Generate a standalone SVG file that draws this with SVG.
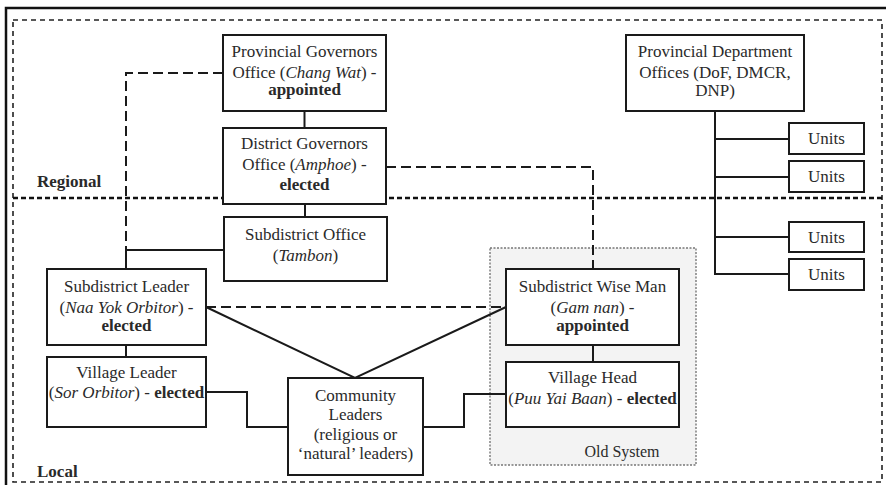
<svg xmlns="http://www.w3.org/2000/svg" width="886" height="485" viewBox="0 0 886 485">
  <style>
    text { font-family: "Liberation Serif", "DejaVu Serif", serif; font-size: 17px; fill: #2a2a2a; text-anchor: middle; }
    .b { font-weight: bold; }
    .i { font-style: italic; }
    .box { fill: #ffffff; stroke: #1a1a1a; stroke-width: 2; }
    .ln { fill: none; stroke: #1a1a1a; stroke-width: 2; }
    .dl { fill: none; stroke: #1a1a1a; stroke-width: 2; stroke-dasharray: 10 5; }
    .zone { font-weight: bold; text-anchor: start; }
  </style>

  <rect width="886" height="485" fill="#ffffff"/>

  <!-- outer frame and zone boundaries -->
  <g id="frame">
    <rect x="6" y="8" width="900" height="500" fill="none" stroke="#111" stroke-width="2.5"/>
    <rect x="13" y="20" width="869" height="462" fill="none" stroke="#222" stroke-width="1.6" stroke-dasharray="5 4"/>
    <line x1="13" y1="198" x2="882" y2="198" stroke="#111" stroke-width="2.6" stroke-dasharray="5 3"/>
    <text class="zone" x="37" y="187">Regional</text>
    <text class="zone" x="37" y="477">Local</text>
  </g>

  <!-- old system grouping -->
  <g id="old-system">
    <rect x="490" y="248" width="206" height="217" fill="#f3f3f3" stroke="#777" stroke-width="1.4" stroke-dasharray="2 1.5"/>
    <text x="622" y="457" style="font-size:16px">Old  System</text>
  </g>

  <!-- connectors -->
  <g id="connectors">
    <line class="ln" x1="304.5" y1="111" x2="304.5" y2="128"/>
    <line class="ln" x1="305" y1="204" x2="305" y2="217"/>
    <polyline class="dl" points="223,73 126,73 126,250"/>
    <polyline class="ln" points="224,250 126,250 126,269"/>
    <polyline class="dl" points="386,167 593,167 593,269"/>
    <line class="ln" x1="126" y1="345" x2="126" y2="357"/>
    <line class="dl" x1="206" y1="307" x2="506" y2="307"/>
    <polyline class="ln" points="206,307 355,378 506,307"/>
    <polyline class="ln" points="206,392 247,392 247,427 288,427"/>
    <polyline class="ln" points="423,427 464,427 464,394 506,394"/>
    <line class="ln" x1="593" y1="345" x2="593" y2="362"/>
    <line class="ln" x1="715" y1="111" x2="715" y2="275"/>
    <line class="ln" x1="715" y1="139" x2="789" y2="139"/>
    <line class="ln" x1="715" y1="177" x2="789" y2="177"/>
    <line class="ln" x1="715" y1="237" x2="789" y2="237"/>
    <line class="ln" x1="715" y1="274" x2="789" y2="274"/>
  </g>

  <g id="provincial-governors">
    <rect class="box" x="223" y="35" width="163" height="76"/>
    <text x="304.5" y="57">Provincial Governors</text>
    <text x="304.5" y="78">Office (<tspan class="i">Chang Wat</tspan>) -</text>
    <text x="304.5" y="95" class="b">appointed</text>
  </g>

  <g id="district-governors">
    <rect class="box" x="223" y="128" width="163" height="76"/>
    <text x="304.5" y="149">District Governors</text>
    <text x="304.5" y="170">Office (<tspan class="i">Amphoe</tspan>) -</text>
    <text x="304.5" y="190" class="b">elected</text>
  </g>

  <g id="subdistrict-office">
    <rect class="box" x="224" y="217" width="163" height="64"/>
    <text x="305.5" y="240">Subdistrict Office</text>
    <text x="305.5" y="261">(<tspan class="i">Tambon</tspan>)</text>
  </g>

  <g id="subdistrict-leader">
    <rect class="box" x="47" y="269" width="159" height="76"/>
    <text x="126.5" y="292">Subdistrict Leader</text>
    <text x="126.5" y="313">(<tspan class="i">Naa Yok Orbitor</tspan>) -</text>
    <text x="126.5" y="331" class="b">elected</text>
  </g>

  <g id="village-leader">
    <rect class="box" x="47" y="357" width="159" height="70"/>
    <text x="126.5" y="378">Village Leader</text>
    <text x="126.5" y="398">(<tspan class="i">Sor Orbitor</tspan>) - <tspan class="b">elected</tspan></text>
  </g>

  <g id="community-leaders">
    <rect class="box" x="288" y="378" width="135" height="97"/>
    <text x="355.5" y="401">Community</text>
    <text x="355.5" y="420">Leaders</text>
    <text x="355.5" y="440">(religious or</text>
    <text x="355.5" y="459">‘natural’ leaders)</text>
  </g>

  <g id="subdistrict-wise-man">
    <rect class="box" x="506" y="269" width="173" height="76"/>
    <text x="592.5" y="292">Subdistrict Wise Man</text>
    <text x="592.5" y="313">(<tspan class="i">Gam nan</tspan>) -</text>
    <text x="592.5" y="331" class="b">appointed</text>
  </g>

  <g id="village-head">
    <rect class="box" x="506" y="362" width="173" height="65"/>
    <text x="592.5" y="383">Village Head</text>
    <text x="592.5" y="404">(<tspan class="i">Puu Yai Baan</tspan>) - <tspan class="b">elected</tspan></text>
  </g>

  <g id="provincial-departments">
    <rect class="box" x="626" y="35" width="178" height="76"/>
    <text x="715" y="57">Provincial Department</text>
    <text x="715" y="78">Offices (DoF, DMCR,</text>
    <text x="715" y="96">DNP)</text>
  </g>

  <g id="units-1">
    <rect class="box" x="789" y="123" width="75" height="31"/>
    <text x="826.5" y="144">Units</text>
  </g>
  <g id="units-2">
    <rect class="box" x="789" y="161" width="75" height="31"/>
    <text x="826.5" y="182">Units</text>
  </g>
  <g id="units-3">
    <rect class="box" x="789" y="222" width="75" height="30"/>
    <text x="826.5" y="243">Units</text>
  </g>
  <g id="units-4">
    <rect class="box" x="789" y="259" width="75" height="31"/>
    <text x="826.5" y="280">Units</text>
  </g>
</svg>
